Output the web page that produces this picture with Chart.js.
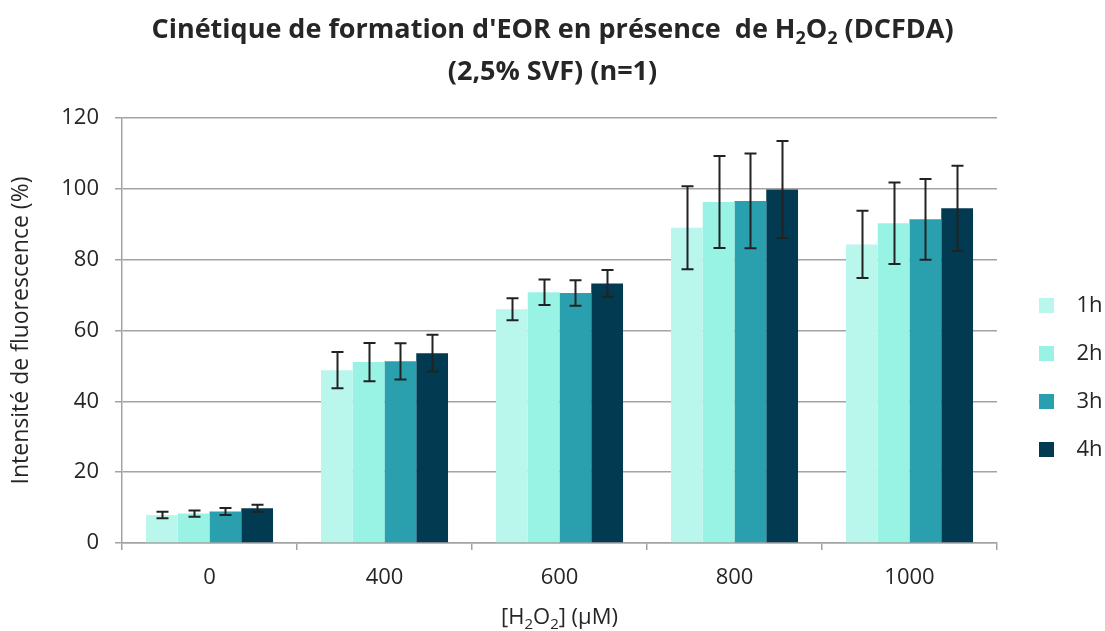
<!DOCTYPE html>
<html>
<head>
<meta charset="utf-8">
<script src="https://cdn.jsdelivr.net/npm/chart.js@4/dist/chart.umd.min.js"></script>
<style>
  html, body { margin: 0; padding: 0; background: #fff; }
  #wrap { width: 1105px; height: 631px; }
</style>
</head>
<body>
<div id="wrap"><canvas id="chart"></canvas></div>
<script>
const categories = ["0", "400", "600", "800", "1000"];
const seriesLabels = ["1h", "2h", "3h", "4h"];
const values1h = [7.9, 48.8, 66.0, 89.0, 84.3];
const values2h = [8.3, 51.1, 70.8, 96.3, 90.3];
const values3h = [8.9, 51.3, 70.6, 96.6, 91.4];
const values4h = [9.8, 53.6, 73.3, 99.8, 94.5];
const errors1h = [0.9, 5.1, 3.1, 11.7, 9.5];
const errors2h = [0.9, 5.4, 3.6, 13.0, 11.5];
const errors3h = [1.0, 5.1, 3.6, 13.4, 11.4];
const errors4h = [1.0, 5.2, 3.8, 13.7, 12.0];
const seriesColors = ["#B9F6EC", "#98F3E4", "#2AA0AF", "#023A51"];
const yMin = 0, yMax = 120, yStep = 20;

const titleLine1 = [
  { t: "Cinétique de formation d'EOR en présence  de H" }, { t: "2", sub: true },
  { t: "O" }, { t: "2", sub: true }, { t: " (DCFDA)" },
];
const titleLine2 = [{ t: "(2,5% SVF) (n=1)" }];
const xTitle = [{ t: "[H" }, { t: "2", sub: true }, { t: "O" }, { t: "2", sub: true }, { t: "] (µM)" }];

const FONT = "'Open Sans', Lato, sans-serif";
const TEXT = "#262626";
const GRID = "#A3A3A3";

// draws a line of text with subscript parts, centred on cx
function drawRich(ctx, parts, cx, baseline, size, weight) {
  const main = `${weight} ${size}px ${FONT}`;
  const small = `${weight} ${Math.round(size * 0.66)}px ${FONT}`;
  let w = 0;
  for (const p of parts) { ctx.font = p.sub ? small : main; w += ctx.measureText(p.t).width; }
  let x = cx - w / 2;
  ctx.textAlign = "left";
  ctx.textBaseline = "alphabetic";
  for (const p of parts) {
    ctx.font = p.sub ? small : main;
    ctx.fillText(p.t, x, baseline + (p.sub ? size * 0.22 : 0));
    x += ctx.measureText(p.t).width;
  }
}

const richText = {
  id: "richText",
  afterDraw(chart) {
    const { ctx, chartArea } = chart;
    ctx.save();
    ctx.fillStyle = TEXT;
    drawRich(ctx, titleLine1, chart.width / 2, 38, 27, "bold");
    drawRich(ctx, titleLine2, chart.width / 2, 80, 27, "bold");
    drawRich(ctx, xTitle, (chartArea.left + chartArea.right) / 2, 624, 22, "normal");
    ctx.restore();
  },
};

const errorBars = {
  id: "errorBars",
  afterDatasetsDraw(chart) {
    const { ctx } = chart;
    const y = chart.scales.y;
    ctx.save();
    ctx.strokeStyle = "#222";
    ctx.lineWidth = 2;
    chart.data.datasets.forEach((ds, i) => {
      const meta = chart.getDatasetMeta(i);
      if (meta.hidden) return;
      meta.data.forEach((bar, j) => {
        const v = ds.data[j], e = ds.errors[j];
        const top = y.getPixelForValue(v + e);
        const bot = y.getPixelForValue(v - e);
        const x = Math.round(bar.x) + 0.5;
        ctx.beginPath();
        ctx.moveTo(x, top); ctx.lineTo(x, bot);
        ctx.moveTo(x - 6, top); ctx.lineTo(x + 6, top);
        ctx.moveTo(x - 6, bot); ctx.lineTo(x + 6, bot);
        ctx.stroke();
      });
    });
    ctx.restore();
  },
};

const seriesValues = [values1h, values2h, values3h, values4h];
const seriesErrors = [errors1h, errors2h, errors3h, errors4h];

new Chart(document.getElementById("chart"), {
  type: "bar",
  data: {
    labels: categories,
    datasets: seriesLabels.map((label, i) => ({
      label,
      data: seriesValues[i],
      errors: seriesErrors[i],
      backgroundColor: seriesColors[i],
      borderWidth: 0,
      barPercentage: 1,
      categoryPercentage: 0.726,
    })),
  },
  options: {
    responsive: true,
    maintainAspectRatio: false,
    animation: false,
    layout: { padding: { top: 118, right: 0, bottom: 0, left: 0 } },
    plugins: {
      title: { display: false },
      tooltip: { enabled: false },
      legend: {
        position: "right",
        align: "center",
        maxWidth: 92,
        title: { display: true, text: "", font: { size: 5 }, padding: 0 },
        labels: {
          boxWidth: 15,
          boxHeight: 15,
          padding: 26,
          color: TEXT,
          font: { family: FONT, size: 22 },
          // wider gap between swatch and text, as in the original
          generateLabels: (chart) =>
            Chart.defaults.plugins.legend.labels.generateLabels(chart).map((item) => ({ ...item, text: "  " + item.text })),
        },
      },
    },
    scales: {
      x: {
        grid: { display: true, drawOnChartArea: false, drawTicks: true, tickLength: 7, color: GRID, lineWidth: 1.5, offset: true },
        border: { display: true, color: GRID, width: 1.5 },
        ticks: { color: TEXT, font: { family: FONT, size: 22 }, padding: 15, maxRotation: 0 },
        afterFit: (s) => { s.height = 88; },
      },
      y: {
        min: yMin,
        max: yMax,
        ticks: { stepSize: yStep, color: TEXT, font: { family: FONT, size: 22 }, padding: 16 },
        grid: { color: GRID, lineWidth: 1.5, tickLength: 7 },
        border: { display: true, color: GRID, width: 1.5 },
        title: {
          display: true,
          text: "Intensité de fluorescence (%)",
          color: TEXT,
          font: { family: FONT, size: 23 },
          padding: { top: 8, bottom: 0 },
        },
        afterFit: (s) => { s.width = 122; },
      },
      // empty axis that only keeps the legend clear of the plot
      spacer: {
        type: "linear",
        position: "right",
        display: true,
        grid: { display: false, drawTicks: false },
        border: { display: false },
        ticks: { display: false },
        afterFit: (s) => { s.width = 16; },
      },
    },
  },
  plugins: [errorBars, richText],
});
</script>
</body>
</html>
